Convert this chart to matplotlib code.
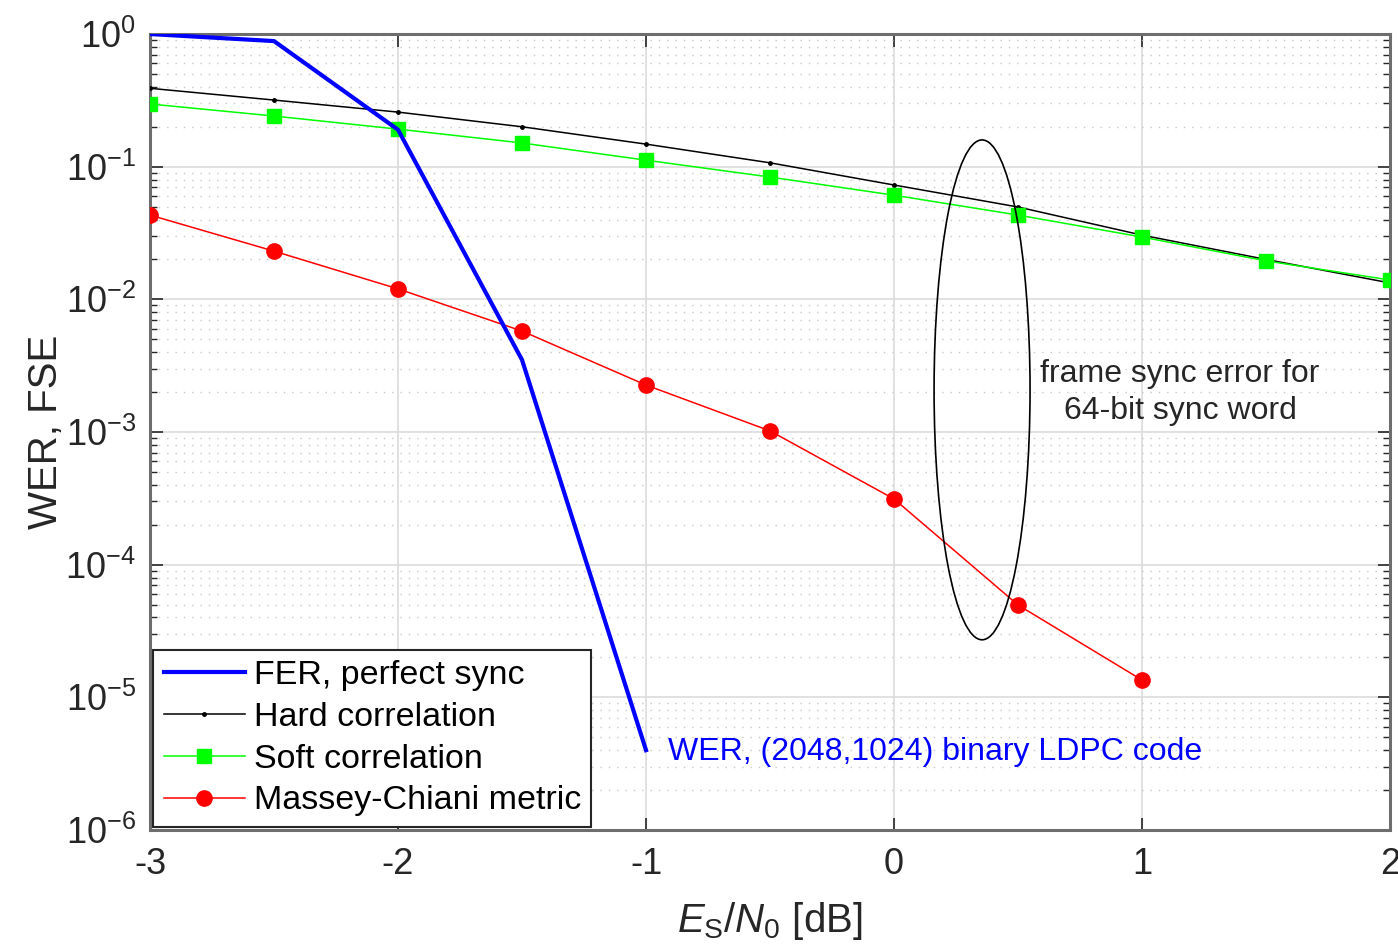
import numpy as np
import matplotlib
matplotlib.use("Agg")
import matplotlib.pyplot as plt
from matplotlib.patches import Ellipse
from matplotlib.ticker import LogLocator, NullFormatter

plt.rcParams['font.family'] = ['Liberation Sans', 'DejaVu Sans']
plt.rcParams['mathtext.fontset'] = 'custom'
plt.rcParams['mathtext.rm'] = 'Liberation Sans'
plt.rcParams['mathtext.it'] = 'Liberation Sans:italic'

# Es/N0 [dB]
esn0 = [-3, -2.5, -2, -1.5, -1, -0.5, 0, 0.5, 1, 1.5, 2]

# FER with perfect sync (LDPC code)
fer_x = [-3, -2.5, -2, -1.5, -1]
fer = [1.0, 0.885, 0.19, 3.5e-3, 4.0e-6]

# frame sync error curves
hard = [0.39, 0.318, 0.258, 0.20, 0.148, 0.107, 0.0728, 0.0497, 0.0305, 0.020, 0.0133]
soft = [0.297, 0.241, 0.192, 0.151, 0.112, 0.0836, 0.061, 0.0432, 0.0295, 0.0195, 0.014]
mc_x = [-3, -2.5, -2, -1.5, -1, -0.5, 0, 0.5, 1]
mc = [0.0432, 0.0231, 0.012, 5.77e-3, 2.26e-3, 1.02e-3, 3.13e-4, 4.97e-5, 1.35e-5]

fig = plt.figure(figsize=(13.98, 9.51), dpi=100)
ax = fig.add_axes([0.1073, 0.1272, 0.887, 0.837])

ax.semilogy(fer_x, fer, color=(0, 0, 1), lw=3, label='FER, perfect sync', zorder=5)
ax.semilogy(esn0, hard, color='k', lw=1.1, marker='.', ms=5, label='Hard correlation', zorder=4)
ax.semilogy(esn0, soft, color=(0, 1, 0), lw=1.1, marker='s', ms=10, label='Soft correlation', zorder=4)
ax.semilogy(mc_x, mc, color=(1, 0, 0), lw=1.1, marker='o', ms=11, label='Massey-Chiani metric', zorder=4)

ax.set_xlim(-3, 2)
ax.set_ylim(1e-6, 1)
ax.set_xticks([-3, -2, -1, 0, 1, 2])
ax.set_xticklabels(['-3', '-2', '-1', '0', '1', '2'])
ax.yaxis.set_major_locator(LogLocator(base=10, numticks=10))
ax.yaxis.set_minor_locator(LogLocator(base=10, subs=np.arange(2, 10), numticks=20))
ax.yaxis.set_minor_formatter(NullFormatter())

ax.grid(True, which='major', color='#dcdcdc', lw=1.2, ls='-')
ax.grid(True, which='minor', axis='y', color='#c8c8c8', lw=1.0, ls=(0, (1, 5)))
ax.set_axisbelow(True)

ax.tick_params(which='both', direction='in', top=True, right=True, colors='#262626',
               labelcolor='#262626', labelsize=26)
ax.tick_params(which='major', length=9, width=1.2)
ax.tick_params(which='minor', length=5, width=1.0)
ax.tick_params(axis='x', pad=12)
ax.tick_params(axis='y', pad=10)
for s in ax.spines.values():
    s.set_color('#6e6e6e')
    s.set_linewidth(2.2)

ax.set_xlabel(r'$E_\mathrm{S}/N_0$ [dB]', fontsize=29, color='#262626', labelpad=13)
ax.set_ylabel('WER, FSE', fontsize=29, color='#262626', labelpad=0)

# ellipse around sync curves
ell = Ellipse((0.671, 0.553), 0.0774, 0.628, transform=ax.transAxes,
              fill=False, ec='k', lw=1.2, zorder=6)
ax.add_patch(ell)
ax.text(1.153, 2.0e-3, 'frame sync error for\n64-bit sync word', ha='center', va='center',
        fontsize=23, color='#262626', linespacing=1.3)
ax.text(-0.91, 3.9e-6, 'WER, (2048,1024) binary LDPC code', ha='left', va='center',
        fontsize=23, color=(0, 0, 1))

leg = ax.legend(loc='lower left', fontsize=24.5, handlelength=2.4, handletextpad=0.25,
                labelspacing=0.32, borderpad=0.3, borderaxespad=0.1, fancybox=False,
                framealpha=1, edgecolor='#262626')
leg.get_frame().set_linewidth(1.5)

fig.savefig('out.png', dpi=100)
